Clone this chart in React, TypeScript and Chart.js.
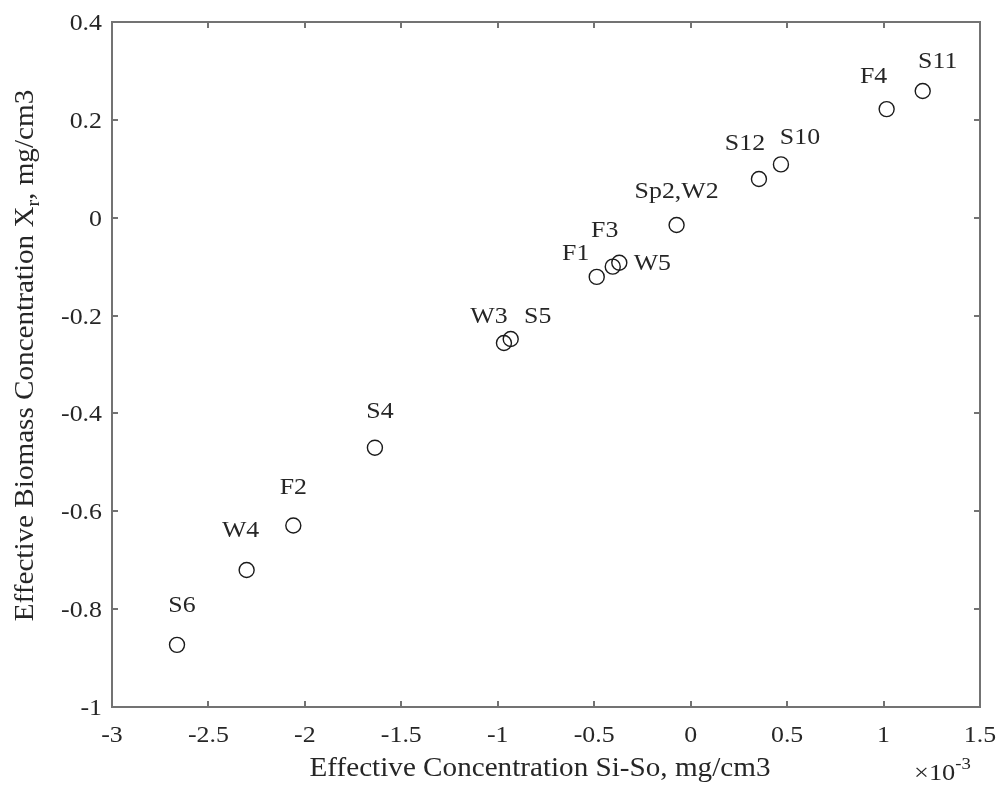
import React, { useEffect, useRef } from "react";
import { Chart, registerables } from "chart.js";

Chart.register(...registerables);

// Sample names
const names = ["S6", "W4", "F2", "S4", "W3", "S5", "F1", "F3", "W5", "Sp2,W2", "S12", "S10", "F4", "S11"];
// Effective Concentration Si-So (×10^-3 mg/cm3)
const xValues = [-2.663, -2.302, -2.06, -1.637, -0.968, -0.933, -0.487, -0.404, -0.37, -0.073, 0.354, 0.468, 1.016, 1.203];
// Effective Biomass Concentration Xr (mg/cm3)
const yValues = [-0.873, -0.72, -0.629, -0.47, -0.256, -0.248, -0.121, -0.1, -0.092, -0.015, 0.079, 0.109, 0.222, 0.259];

// label placement offsets (px, relative to the marker; text centre / baseline)
const labelDx = [5, -6, 0, 5, -15, 27, -21, -8, 33, 0, -14, 19, -13, 15];
const labelDy = [-33, -33, -31, -30, -20, -16, -17, -30, 7, -27, -29, -20, -26, -23];

const xMin = -3, xMax = 1.5, xStep = 0.5;
const yMin = -1, yMax = 0.4, yStep = 0.2;

const xTitle = "Effective Concentration Si-So, mg/cm3";
const yTitleParts = ["Effective Biomass Concentration X", "r", ", mg/cm3"];
const xExponent = ["\u00d710", "-3"];

const FONT = "'Liberation Serif', 'Times New Roman', serif";
const TEXT = "#262626";
const AXIS = "#737373";
const SX = 1.1; // horizontal stretch of the text

function fmt(v: number) {
  return String(Number(v.toFixed(3)));
}

function sText(ctx: CanvasRenderingContext2D, t: string, x: number, y: number, size: number, align: CanvasTextAlign, base: CanvasTextBaseline) {
  ctx.save();
  ctx.font = `${size}px ${FONT}`;
  ctx.textAlign = align;
  ctx.textBaseline = base;
  ctx.translate(x, y);
  ctx.scale(SX, 1);
  ctx.fillText(t, 0, 0);
  ctx.restore();
}
function sWidth(ctx: CanvasRenderingContext2D, t: string, size: number) {
  ctx.save();
  ctx.font = `${size}px ${FONT}`;
  const w = ctx.measureText(t).width * SX;
  ctx.restore();
  return w;
}

const decorPlugin = {
  id: "matlabDecor",
  afterDraw(chart: any) {
    const ctx: CanvasRenderingContext2D = chart.ctx;
    const { left, right, top, bottom } = chart.chartArea;
    const xs = chart.scales.x;
    const ys = chart.scales.y;
    ctx.save();
    // box
    ctx.strokeStyle = AXIS;
    ctx.lineWidth = 2;
    ctx.strokeRect(left, top, right - left, bottom - top);
    const tl = 6;
    ctx.beginPath();
    xs.ticks.forEach((t: any) => {
      const px = Math.round(xs.getPixelForValue(t.value));
      ctx.moveTo(px, bottom); ctx.lineTo(px, bottom - tl);
      ctx.moveTo(px, top); ctx.lineTo(px, top + tl);
    });
    ys.ticks.forEach((t: any) => {
      const py = Math.round(ys.getPixelForValue(t.value));
      ctx.moveTo(left, py); ctx.lineTo(left + tl, py);
      ctx.moveTo(right, py); ctx.lineTo(right - tl, py);
    });
    ctx.stroke();

    ctx.fillStyle = TEXT;
    // tick labels
    xs.ticks.forEach((t: any) => {
      const px = xs.getPixelForValue(t.value);
      sText(ctx, fmt(t.value), px, bottom + 35, 23.5, "center", "alphabetic");
    });
    ys.ticks.forEach((t: any) => {
      const py = ys.getPixelForValue(t.value);
      sText(ctx, fmt(t.value), left - 10, py + 8, 23.5, "right", "alphabetic");
    });

    // x title
    sText(ctx, xTitle, (left + right) / 2 - 6, 776, 26.5, "center", "alphabetic");
    // exponent
    sText(ctx, xExponent[0], 914, 780, 24, "left", "alphabetic");
    const w10 = sWidth(ctx, xExponent[0], 24);
    sText(ctx, xExponent[1], 914 + w10, 769, 17, "left", "alphabetic");

    // y title (rotated)
    ctx.save();
    ctx.translate(33, (top + bottom) / 2 - 9);
    ctx.rotate(-Math.PI / 2);
    const w0 = sWidth(ctx, yTitleParts[0], 26.5);
    const w1 = sWidth(ctx, yTitleParts[1], 18);
    const w2 = sWidth(ctx, yTitleParts[2], 26.5);
    let cx = -(w0 + w1 + w2) / 2;
    sText(ctx, yTitleParts[0], cx, 0, 26.5, "left", "alphabetic");
    cx += w0;
    sText(ctx, yTitleParts[1], cx, 6, 18, "left", "alphabetic");
    cx += w1;
    sText(ctx, yTitleParts[2], cx, 0, 26.5, "left", "alphabetic");
    ctx.restore();

    // point labels
    const meta = chart.getDatasetMeta(0);
    meta.data.forEach((el: any, i: number) => {
      sText(ctx, names[i], el.x + labelDx[i], el.y + labelDy[i], 23.5, "center", "alphabetic");
    });
    ctx.restore();
  },
};

export default function App() {
  const ref = useRef<HTMLCanvasElement | null>(null);
  useEffect(() => {
    document.body.style.margin = "0";
    const canvas = ref.current;
    if (!canvas) return;
    const chart = new Chart(canvas, {
      type: "scatter",
      data: {
        datasets: [
          {
            label: "samples",
            data: xValues.map((x, i) => ({ x, y: yValues[i] })),
            pointStyle: "circle",
            pointRadius: 7.5,
            pointHoverRadius: 7.5,
            borderWidth: 1.4,
            borderColor: "#1a1a1a",
            backgroundColor: "rgba(0,0,0,0)",
          },
        ],
      },
      options: {
        responsive: false,
        animation: false,
        devicePixelRatio: 1,
        layout: { padding: { top: 22, right: 20, left: 0, bottom: 0 } },
        plugins: { legend: { display: false }, tooltip: { enabled: false } },
        scales: {
          x: {
            type: "linear",
            min: xMin,
            max: xMax,
            ticks: { stepSize: xStep, display: false },
            grid: { display: false },
            border: { display: false },
            afterFit: (s: any) => { s.height = 78; },
          },
          y: {
            type: "linear",
            min: yMin,
            max: yMax,
            ticks: { stepSize: yStep, display: false },
            grid: { display: false },
            border: { display: false },
            afterFit: (s: any) => { s.width = 112; },
          },
        },
      },
      plugins: [decorPlugin],
    } as any);
    return () => chart.destroy();
  }, []);
  return (
    <div style={{ width: 1000, height: 785, background: "#fff" }}>
      <canvas ref={ref} width={1000} height={785} style={{ display: "block" }} />
    </div>
  );
}
